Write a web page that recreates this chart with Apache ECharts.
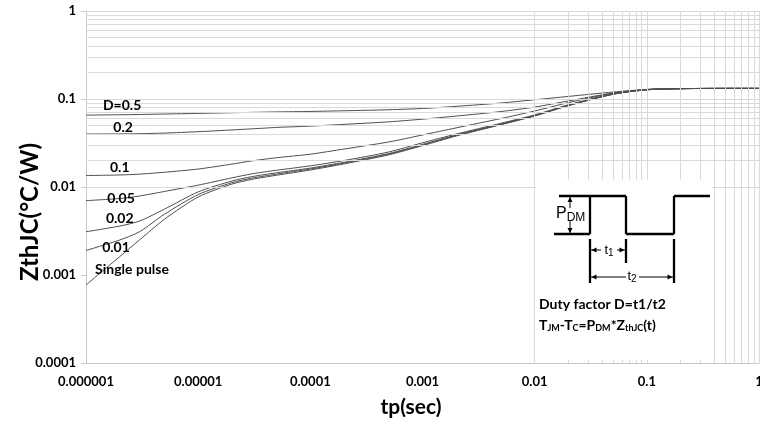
<!DOCTYPE html>
<html>
<head>
<meta charset="utf-8">
<title>Transient thermal impedance</title>
<script src="https://cdn.jsdelivr.net/npm/echarts@6.0.0/dist/echarts.min.js"></script>
<style>
  html, body { margin: 0; padding: 0; background: #fff; }
  #chart { width: 760px; height: 428px; }
</style>
</head>
<body>
<div id="chart"></div>
<script>
const tp = [1e-6, 2e-6, 3e-6, 5e-6, 1e-5, 2e-5, 3e-5, 5e-5, 1e-4, 2e-4, 5e-4,
            1e-3, 2e-3, 5e-3, 1e-2, 2e-2, 5e-2, 0.1, 0.2, 0.5, 1];

// ZthJC (°C/W) per duty factor
const zD050 = [0.0656, 0.0662, 0.0667, 0.0675, 0.0686, 0.0698, 0.0705, 0.0713, 0.0722, 0.0735, 0.0755,
               0.078, 0.0825, 0.090, 0.098, 0.107, 0.120, 0.1285, 0.1312, 0.132, 0.132];
const zD020 = [0.040, 0.0401, 0.0403, 0.041, 0.0425, 0.0445, 0.0458, 0.0475, 0.0492, 0.0515, 0.055,
               0.059, 0.064, 0.072, 0.081, 0.095, 0.117, 0.1285, 0.1312, 0.132, 0.132];
const zD010 = [0.0135, 0.0137, 0.0140, 0.0147, 0.016, 0.0182, 0.0198, 0.0215, 0.0236, 0.027, 0.0325,
               0.039, 0.047, 0.060, 0.073, 0.091, 0.116, 0.128, 0.1311, 0.132, 0.132];
const zD005 = [0.0070, 0.0074, 0.0079, 0.0089, 0.0105, 0.0127, 0.0141, 0.0155, 0.0174, 0.020, 0.025,
               0.0318, 0.040, 0.053, 0.066, 0.086, 0.114, 0.1276, 0.131, 0.132, 0.132];
const zD002 = [0.0031, 0.0036, 0.0041, 0.0056, 0.0088, 0.0117, 0.0131, 0.0145, 0.0164, 0.0191, 0.024,
               0.0305, 0.039, 0.052, 0.065, 0.085, 0.1136, 0.1274, 0.131, 0.132, 0.132];
const zD001 = [0.0019, 0.0025, 0.0031, 0.0049, 0.0082, 0.0112, 0.0126, 0.0140, 0.0160, 0.0187, 0.0236,
               0.030, 0.0385, 0.0515, 0.0645, 0.0845, 0.1133, 0.1272, 0.131, 0.132, 0.132];
const zSingle = [0.00077, 0.00162, 0.0025, 0.0043, 0.0077, 0.0108, 0.0122, 0.0136, 0.0156, 0.0183, 0.0232,
                 0.0295, 0.038, 0.051, 0.064, 0.084, 0.113, 0.127, 0.131, 0.132, 0.132];

const curveNames = ['D=0.5', '0.2', '0.1', '0.05', '0.02', '0.01', 'Single pulse'];
const curveValues = [zD050, zD020, zD010, zD005, zD002, zD001, zSingle];
// where each curve label sits, in data units [tp, Zth]
const labelAnchors = [
  [2.1e-6, 0.0851], [2.14e-6, 0.048], [2.0e-6, 0.01686], [2.05e-6, 0.0075],
  [2.0e-6, 0.00434], [1.85e-6, 0.00208], [2.57e-6, 0.00117]
];

const xTickLabels = ['0.000001', '0.00001', '0.0001', '0.001', '0.01', '0.1', '1'];
const yTickLabels = ['0.0001', '0.001', '0.01', '0.1', '1'];

const gridColor = '#dadada';
const lineColor = '#4d4d4d';
const fontFam = 'Lato, "Open Sans", sans-serif';

// log grid lines at 1..9 x 10^k
function logGrid(fromExp, toExp) {
  const out = [];
  for (let k = fromExp; k < toExp; k++) {
    for (let m = 1; m <= 9; m++) out.push(Number((m * Math.pow(10, k)).toPrecision(3)));
  }
  out.push(Math.pow(10, toExp));
  return out;
}
const xGrid = logGrid(-6, 0);
const yGrid = logGrid(-4, 0);

const chart = echarts.init(document.getElementById('chart'));

const series = [{
  type: 'line',
  data: [],
  silent: true,
  z: 1,
  markLine: {
    silent: true,
    symbol: 'none',
    animation: false,
    label: { show: false },
    lineStyle: { color: gridColor, width: 1, type: 'solid' },
    emphasis: { disabled: true },
    data: xGrid.map(v => ({ xAxis: v })).concat(yGrid.map(v => ({ yAxis: v })))
  }
}];

curveNames.forEach((name, i) => {
  series.push({
    name: name,
    type: 'line',
    smooth: 0.25,
    showSymbol: false,
    z: 3,
    lineStyle: { color: lineColor, width: 1 },
    data: tp.map((t, j) => [t, curveValues[i][j]])
  });
});

chart.setOption({
  animation: false,
  grid: { left: 86, right: 1, top: 11, bottom: 65, containLabel: false, outerBoundsMode: 'none' },
  xAxis: {
    type: 'log',
    logBase: 10,
    min: 1e-6,
    max: 1,
    interval: 1,
    name: 'tp(sec)',
    nameLocation: 'middle',
    nameGap: 34,
    nameTextStyle: { fontFamily: fontFam, fontWeight: 'bold', fontSize: 21, color: '#000', padding: [0, 23, 0, 0] },
    axisLine: { show: true, lineStyle: { color: '#c8c8c8' } },
    axisTick: { show: false },
    splitLine: { show: false },
    axisLabel: {
      margin: 12,
      fontFamily: fontFam, fontWeight: 'bold', fontSize: 13, color: '#000',
      formatter: v => xTickLabels[Math.round(Math.log10(v)) + 6]
    }
  },
  yAxis: {
    type: 'log',
    logBase: 10,
    min: 1e-4,
    max: 1,
    interval: 1,
    axisLine: { show: true, lineStyle: { color: '#c8c8c8' } },
    axisTick: { show: true, length: 5, lineStyle: { color: '#c8c8c8' } },
    splitLine: { show: false },
    axisLabel: {
      margin: 10,
      fontFamily: fontFam, fontWeight: 'bold', fontSize: 13, color: '#000',
      formatter: v => yTickLabels[Math.round(Math.log10(v)) + 4]
    }
  },
  series: series
});

// curve labels
const graphics = curveNames.map((name, i) => {
  const p = chart.convertToPixel({ gridIndex: 0 }, labelAnchors[i]);
  return {
    type: 'text', z: 10,
    style: {
      text: name, x: p[0], y: p[1], align: 'center', verticalAlign: 'middle',
      fontFamily: fontFam, fontWeight: 'bold', fontSize: 14, fill: '#000'
    }
  };
});

// y axis title, rotated
graphics.push({
  type: 'text', z: 10, x: 30, y: 212, rotation: Math.PI / 2,
  style: {
    text: 'ZthJC(°C/W)', align: 'center', verticalAlign: 'middle',
    fontFamily: fontFam, fontWeight: 'bold', fontSize: 24, fill: '#000'
  }
});

// inset: duty cycle waveform
function seg(x1, y1, x2, y2, w) {
  return { type: 'line', z: 21, shape: { x1, y1, x2, y2 }, style: { stroke: '#000', lineWidth: w || 2.3 } };
}
function head(x, y, dir) {
  const s = 5, h = 2.5;
  let pts;
  if (dir === 'up') pts = [[x, y], [x - h, y + s], [x + h, y + s]];
  if (dir === 'down') pts = [[x, y], [x - h, y - s], [x + h, y - s]];
  if (dir === 'left') pts = [[x, y], [x + s, y - h], [x + s, y + h]];
  if (dir === 'right') pts = [[x, y], [x - s, y - h], [x - s, y + h]];
  return { type: 'polygon', z: 21, shape: { points: pts }, style: { fill: '#000' } };
}
const hi = 196, lo = 234;
const sans = 'Liberation Sans, Arial, sans-serif';
graphics.push(
  { type: 'rect', z: 20, shape: { x: 536, y: 180, width: 176, height: 180 }, style: { fill: '#fff' } },
  seg(559, hi, 626, hi), seg(590, hi, 590, lo), seg(626, hi, 626, lo),
  seg(554, lo, 590, lo), seg(626, lo, 674, lo), seg(674, lo, 674, hi), seg(674, hi, 710, hi),
  // PDM arrow
  seg(570, hi + 1, 570, 208, 1), seg(570, 221, 570, lo - 1, 1),
  head(570, hi + 1, 'up'), head(570, lo - 1, 'down'),
  {
    type: 'text', z: 21,
    style: {
      text: '{p|P}{s|DM}', x: 556, y: 215, verticalAlign: 'middle',
      rich: {
        p: { fontFamily: sans, fontSize: 16, fill: '#000', verticalAlign: 'top' },
        s: { fontFamily: sans, fontSize: 12, fill: '#000', verticalAlign: 'bottom', padding: [6, 0, 0, 0] }
      }
    }
  },
  // t1, t2 markers
  seg(590, 239, 590, 283), seg(626, 239, 626, 263), seg(674, 239, 674, 283),
  seg(591, 250, 601, 250, 1), seg(617, 250, 625, 250, 1),
  head(591.5, 250, 'left'), head(624.5, 250, 'right'),
  seg(591, 277, 626, 277, 1), seg(639, 277, 673, 277, 1),
  head(591.5, 277, 'left'), head(672.5, 277, 'right'),
  {
    type: 'text', z: 21,
    style: {
      text: '{t|t}{s|1}', x: 609, y: 250, align: 'center', verticalAlign: 'middle',
      rich: {
        t: { fontFamily: sans, fontSize: 13, fill: '#000' },
        s: { fontFamily: sans, fontSize: 10, fill: '#000', padding: [6, 0, 0, 0] }
      }
    }
  },
  {
    type: 'text', z: 21,
    style: {
      text: '{t|t}{s|2}', x: 632, y: 276, align: 'center', verticalAlign: 'middle',
      rich: {
        t: { fontFamily: sans, fontSize: 13, fill: '#000' },
        s: { fontFamily: sans, fontSize: 10, fill: '#000', padding: [6, 0, 0, 0] }
      }
    }
  },
  {
    type: 'text', z: 21,
    style: {
      text: 'Duty factor D=t1/t2', x: 539, y: 304, verticalAlign: 'middle',
      fontFamily: fontFam, fontWeight: 'bold', fontSize: 14, fill: '#000'
    }
  },
  {
    type: 'text', z: 21,
    style: {
      text: '{m|T}{s|JM}{m|-T}{s|C}{m|=P}{s|DM}{m|*Z}{s|thJC}{m|(t)}', x: 539, y: 325, verticalAlign: 'middle',
      rich: {
        m: { fontFamily: fontFam, fontWeight: 'bold', fontSize: 14, fill: '#000' },
        s: { fontFamily: fontFam, fontWeight: 'bold', fontSize: 9, fill: '#000', padding: [6, 0, 0, 0] }
      }
    }
  }
);

chart.setOption({ graphic: graphics });

window.addEventListener('resize', () => chart.resize());
</script>
</body>
</html>
